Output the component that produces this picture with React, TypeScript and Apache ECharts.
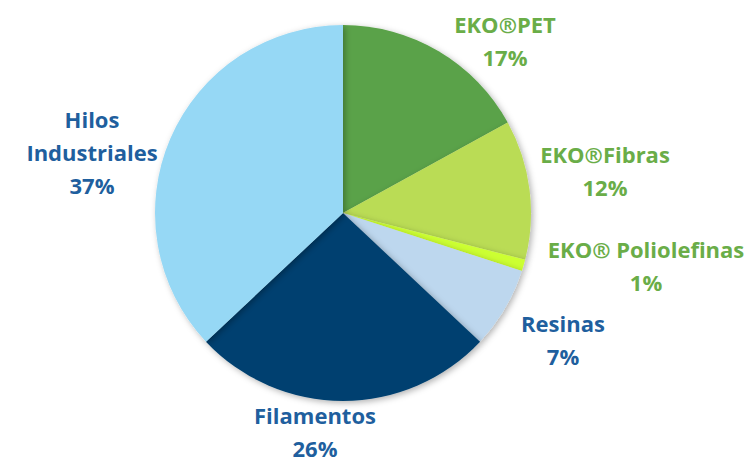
import React, { useEffect, useRef } from "react";
import * as echarts from "echarts";

const categories = ["EKO®PET", "EKO®Fibras", "EKO® Poliolefinas", "Resinas", "Filamentos", "Hilos\nIndustriales"];
const values = [17, 12, 1, 7, 26, 37];
const sliceColors = ["#5AA249", "#BADC54", "#CCFF33", "#BDD7EE", "#00416F", "#96D8F5"];
const labelColors = ["#6AAD48", "#6AAD48", "#6AAD48", "#1F5F9E", "#1F5F9E", "#1F5F9E"];
const labelPos: [number, number][] = [
  [505, 40],
  [605, 170],
  [646, 265],
  [563, 339],
  [315, 431],
  [92, 152],
];

export default function App() {
  const ref = useRef<HTMLDivElement>(null);
  useEffect(() => {
    if (!ref.current) return;
    const chart = echarts.init(ref.current, undefined, { renderer: "svg" });
    chart.setOption({
      animation: false,
      backgroundColor: "#ffffff",
      series: [
        {
          type: "pie",
          center: [343, 213],
          radius: 188,
          startAngle: 90,
          clockwise: true,
          data: categories.map((c, i) => ({
            name: c,
            value: values[i],
            itemStyle: { color: sliceColors[i] },
            label: { color: labelColors[i] },
          })),
          itemStyle: {
            shadowBlur: 6,
            shadowOffsetX: 2,
            shadowOffsetY: 2,
            shadowColor: "rgba(0,0,0,0.3)",
          },
          label: {
            show: true,
            position: "outside",
            formatter: "{b}\n{c}%",
            fontFamily: "Open Sans",
            fontWeight: "bold",
            fontSize: 22,
            lineHeight: 33,
            align: "center",
            overflow: "none",
          },
          labelLine: { show: false },
          labelLayout: (p: any) => ({
            x: labelPos[p.dataIndex][0],
            y: labelPos[p.dataIndex][1],
            align: "center",
            verticalAlign: "middle",
          }),
        },
      ],
    });
    return () => chart.dispose();
  }, []);
  return <div ref={ref} style={{ position: "absolute", left: 0, top: 0, width: 756, height: 465 }} />;
}
